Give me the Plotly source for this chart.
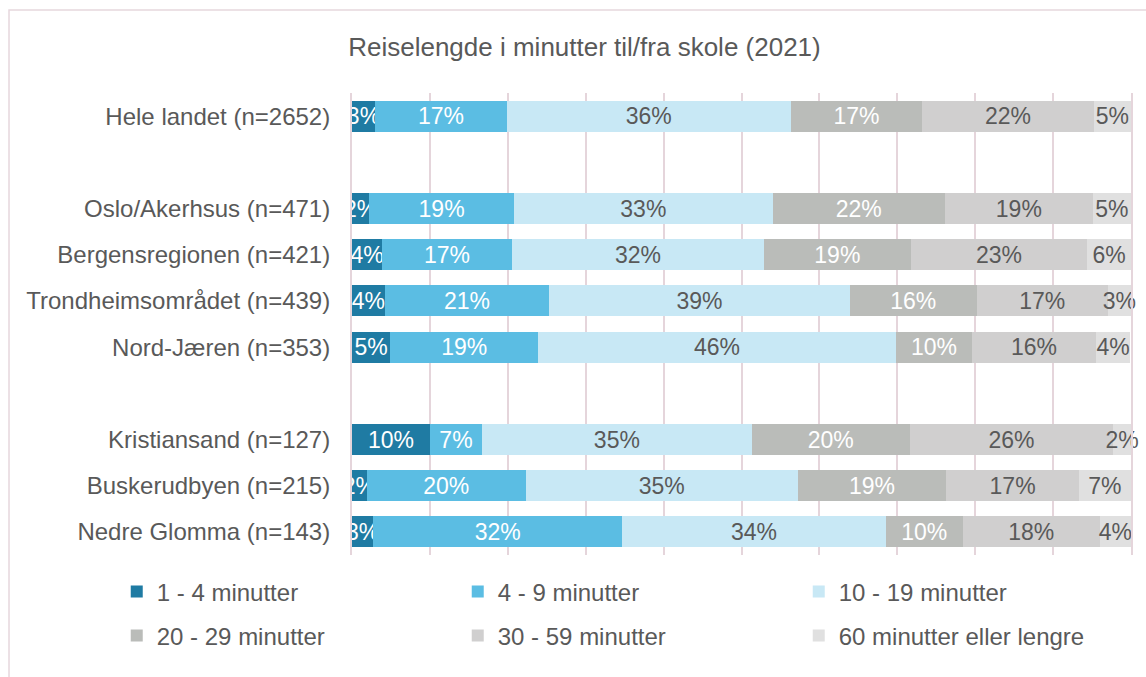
import plotly.graph_objects as go

# rows top to bottom, blank strings are the gap rows
categories = [
    "Hele landet (n=2652)",
    " ",
    "Oslo/Akerhsus (n=471)",
    "Bergensregionen (n=421)",
    "Trondheimsområdet (n=439)",
    "Nord-Jæren (n=353)",
    "  ",
    "Kristiansand (n=127)",
    "Buskerudbyen (n=215)",
    "Nedre Glomma (n=143)",
]

series_names = [
    "1 - 4 minutter",
    "4 - 9 minutter",
    "10 - 19 minutter",
    "20 - 29 minutter",
    "30 - 59 minutter",
    "60 minutter eller lengre",
]

min_1_4 = [2.95, None, 2.2, 3.9, 4.2, 4.9, None, 10.0, 1.9, 2.7]
min_4_9 = [16.95, None, 18.6, 16.6, 21.1, 19.0, None, 6.7, 20.4, 32.0]
min_10_19 = [36.4, None, 33.2, 32.4, 38.6, 45.9, None, 34.6, 34.9, 33.8]
min_20_29 = [16.9, None, 22.1, 18.8, 16.3, 9.8, None, 20.3, 19.1, 9.9]
min_30_59 = [22.0, None, 19.0, 22.7, 16.8, 15.9, None, 26.1, 17.0, 17.6]
min_60_plus = [4.8, None, 4.9, 5.6, 3.0, 4.4, None, 2.3, 6.7, 4.0]

values = [min_1_4, min_4_9, min_10_19, min_20_29, min_30_59, min_60_plus]

bar_colors = ["#1F7BA3", "#5BBDE3", "#C8E8F5", "#BABCB9", "#D0CFCF", "#E0E0E0"]
text_colors = ["white", "white", "#595959", "white", "#595959", "#595959"]

fig = go.Figure()

for i in range(len(series_names)):
    fig.add_trace(
        go.Bar(
            y=categories,
            x=values[i],
            name=series_names[i],
            orientation="h",
            marker=dict(color=bar_colors[i], line=dict(width=0)),
            texttemplate="%{x:.0f}%",
            textposition="inside",
            insidetextanchor="middle",
            textangle=0,
            textfont=dict(color=text_colors[i], size=23),
            cliponaxis=False,
            width=0.67,
            legend="legend" if i < 3 else "legend2",
        )
    )

grid_color = "#E5D5DB"

legend_style = dict(
    orientation="h",
    x=-0.302,
    xanchor="left",
    yanchor="middle",
    entrywidth=296,
    itemwidth=30,
    bgcolor="rgba(0,0,0,0)",
    font=dict(size=24, color="#595959"),
    traceorder="normal",
)

fig.update_layout(
    barmode="stack",
    width=1146,
    height=677,
    margin=dict(l=352, r=15, t=93, b=122),
    plot_bgcolor="white",
    paper_bgcolor="white",
    font=dict(family="Liberation Sans, Arial", color="#595959", size=24),
    uniformtext=dict(minsize=23, mode="show"),
    title=dict(
        text="Reiselengde i minutter til/fra skole (2021)",
        x=0.51,
        xanchor="center",
        y=0.93,
        yanchor="middle",
        font=dict(size=26, color="#595959"),
    ),
    legend=dict(legend_style, y=-0.08),
    legend2=dict(legend_style, y=-0.175),
)

fig.update_xaxes(
    range=[0, 100],
    dtick=10,
    showgrid=True,
    gridcolor=grid_color,
    gridwidth=2,
    showticklabels=False,
    zeroline=False,
    showline=False,
    fixedrange=True,
)

fig.update_yaxes(
    categoryorder="array",
    categoryarray=categories[::-1],
    showgrid=False,
    ticks="",
    ticklabelstandoff=15,
    tickfont=dict(size=24, color="#595959"),
    showline=True,
    mirror=True,
    linecolor=grid_color,
    linewidth=2,
    fixedrange=True,
)

# outer chart border (only top and left edges fall inside the picture)
fig.add_shape(
    type="rect",
    xref="paper",
    yref="paper",
    x0=-0.4403,
    x1=1.2,
    y0=-0.5,
    y1=1.1797,
    line=dict(color="#E6D7DD", width=1.5),
    fillcolor="rgba(0,0,0,0)",
    layer="below",
)

fig.write_html(
    "out.html",
    config={"displayModeBar": False},
    post_script="document.body.style.margin = '0';",
)
